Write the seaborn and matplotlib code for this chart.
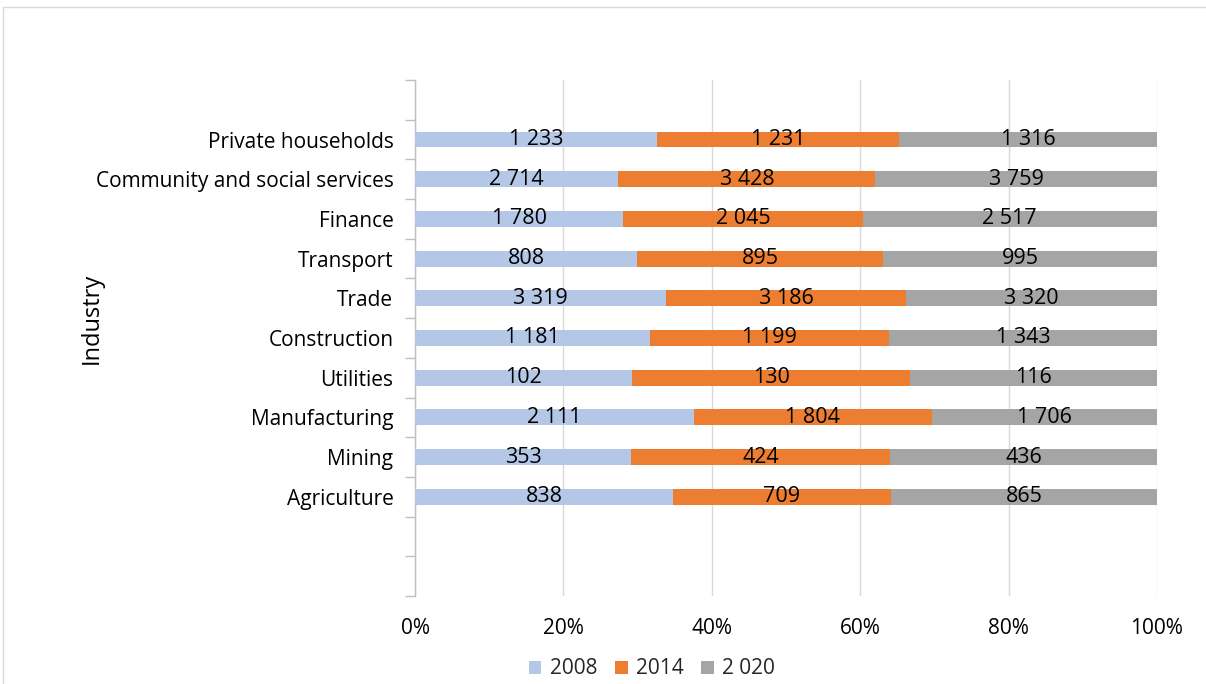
import matplotlib
matplotlib.use("Agg")
import matplotlib.pyplot as plt
import seaborn as sns
import pandas as pd
import numpy as np
from matplotlib.patches import Patch
from matplotlib.lines import Line2D

# Employment by industry (thousands), top to bottom
industries = ["Private households", "Community and social services", "Finance",
              "Transport", "Trade", "Construction", "Utilities",
              "Manufacturing", "Mining", "Agriculture"]
years = ["2008", "2014", "2 020"]
v2008 = [1233, 2714, 1780, 808, 3319, 1181, 102, 2111, 353, 838]
v2014 = [1231, 3428, 2045, 895, 3186, 1199, 130, 1804, 424, 709]
v2020 = [1316, 3759, 2517, 995, 3320, 1343, 116, 1706, 436, 865]
colors = ["#B4C7E7", "#ED7D31", "#A5A5A5"]
x_ticks = [0, 20, 40, 60, 80, 100]
x_tick_labels = ["0%", "20%", "40%", "60%", "80%", "100%"]

df = pd.DataFrame({"Industry": industries, years[0]: v2008,
                   years[1]: v2014, years[2]: v2020})
share = df[years].div(df[years].sum(axis=1), axis=0) * 100
cum = share.cumsum(axis=1)

sns.set_theme(style="white")
plt.rcParams["font.family"] = ["Open Sans", "DejaVu Sans"]

W, H = 1206, 684
fig = plt.figure(figsize=(W / 100, H / 100), dpi=100)
ax = fig.add_axes([415 / W, 1 - 596 / H, 742 / W, 516 / H])

# 100% stacked bars: draw cumulative totals from the widest down
for yr, col in reversed(list(zip(years, colors))):
    d = pd.DataFrame({"Industry": industries, "cum": cum[yr].values})
    sns.barplot(data=d, x="cum", y="Industry", order=industries, color=col,
                saturation=1, width=0.4, orient="y", linewidth=0,
                edgecolor="none", ax=ax, zorder=3)

# value labels centred in each segment
for yr in years:
    centers = cum[yr] - share[yr] / 2
    for i, (c, v) in enumerate(zip(centers, df[yr])):
        ax.text(c, i, f"{v:,}".replace(",", " "), ha="center", va="center",
                fontsize=15.5, color="black", zorder=5)

ax.set_xlim(0, 100)
ax.set_ylim(11.5, -1.5)
ax.set_xticks(x_ticks)
ax.set_xticklabels(x_tick_labels)
ax.set_yticks(range(len(industries)))
ax.set_yticklabels(industries)
ax.set_yticks(np.arange(-1.5, 12.0, 1.0), minor=True)
ax.tick_params(axis="x", length=0, pad=16, labelsize=15, labelcolor="black")
ax.tick_params(axis="y", which="major", left=True, length=0, pad=15.5,
               labelsize=15, labelcolor="black")
ax.tick_params(axis="y", which="minor", left=True, length=7, width=1,
               color="#BFBFBF", direction="out")
ax.set_xlabel("")
ax.set_ylabel("")

ax.set_axisbelow(True)
ax.xaxis.grid(True, color="#D9D9D9", linewidth=1)
ax.yaxis.grid(False)
for s in ["top", "right", "bottom"]:
    ax.spines[s].set_visible(False)
ax.spines["left"].set_color("#BFBFBF")
ax.spines["left"].set_linewidth(1)

fig.text(92 / W, 1 - 318 / H, "Industry", rotation=90, ha="center",
         va="center", fontsize=17, color="black")

handles = [Patch(facecolor=c, edgecolor="none", label=y) for c, y in zip(colors, years)]
fig.legend(handles=handles, loc="center", bbox_to_anchor=(652 / W, 1 - 669 / H),
           ncol=3, frameon=False, fontsize=15, handlelength=0.6,
           handleheight=0.6, handletextpad=0.4, columnspacing=0.85)

# chart-area border (top and left edges)
fig.add_artist(Line2D([3 / W, 1.0], [1 - 7 / H, 1 - 7 / H], transform=fig.transFigure,
                      color="#D9D9D9", linewidth=1))
fig.add_artist(Line2D([3 / W, 3 / W], [0.0, 1 - 7 / H], transform=fig.transFigure,
                      color="#D9D9D9", linewidth=1))

fig.savefig("out.png", dpi=100)
